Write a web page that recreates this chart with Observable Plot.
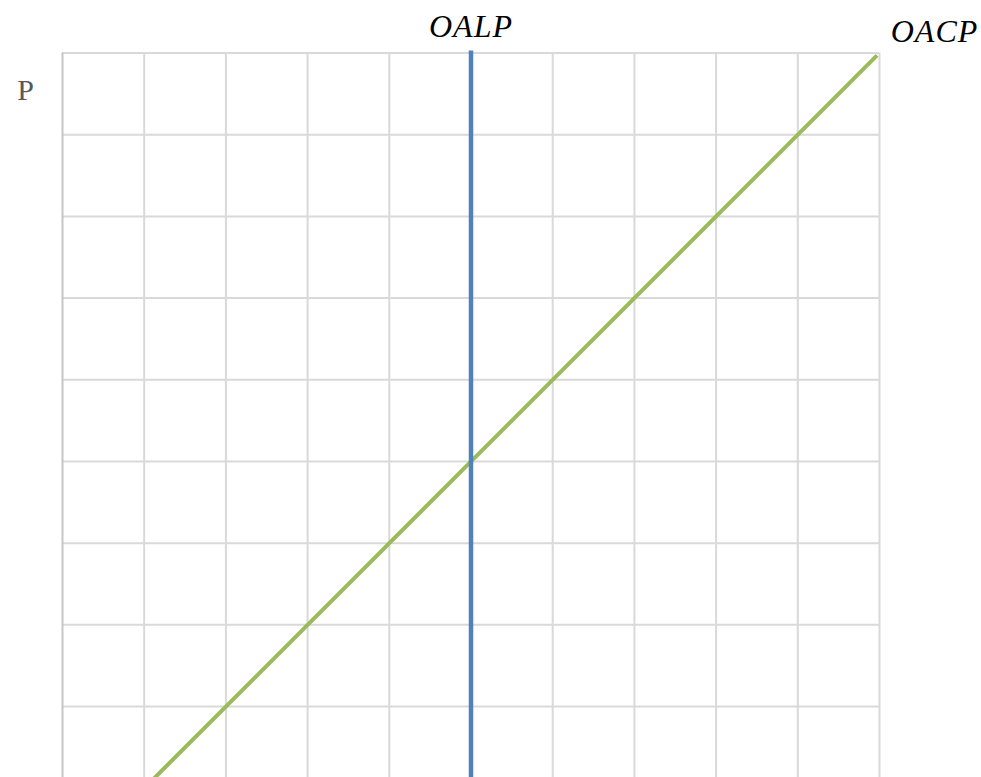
<!DOCTYPE html>
<html>
<head>
<meta charset="utf-8">
<script src="https://cdn.jsdelivr.net/npm/d3@7"></script>
<script src="https://cdn.jsdelivr.net/npm/@observablehq/plot@0.6"></script>
<style>
  html, body { margin: 0; padding: 0; background: #fff; overflow: hidden; }
</style>
</head>
<body>
<div id="chart"></div>
<script>
// Grid ticks
const xTicks = [1, 2, 3, 4, 5, 6, 7, 8, 9, 10];
const yTicks = [2, 3, 4, 5, 6, 7, 8, 9, 10];

// OALP (vertical long-run aggregate supply)
const oalpX = [5, 5];
const oalpY = [1, 10.03];

// OACP (upward-sloping short-run aggregate supply)
const oacpX = [1, 9.97];
const oacpY = [1, 9.97];

// Labels
const labelText = ["OALP", "OACP", "P"];
const labelX = [5, 10, 0];
const labelY = [10, 10, 10];

const oalp = oalpX.map((x, i) => ({x, y: oalpY[i]}));
const oacp = oacpX.map((x, i) => ({x, y: oacpY[i]}));

const labelStyles = [
  {dx: 0, dy: -26.7, size: 32, italic: true, fill: "#000"},
  {dx: 55, dy: -21.7, size: 32, italic: true, fill: "#000"},
  {dx: -37, dy: 36.9, size: 30, italic: false, fill: "#595959"}
];

const labelMarks = labelText.map((t, i) => {
  const s = labelStyles[i];
  return Plot.text([{text: t, x: labelX[i], y: labelY[i]}], {
    x: "x", y: "y", text: "text", dx: s.dx, dy: s.dy,
    fontFamily: "Liberation Serif", fontSize: s.size,
    fontStyle: s.italic ? "italic" : "normal",
    fill: s.fill, textAnchor: "middle"
  });
});

const chart = Plot.plot({
  width: 981,
  height: 777,
  marginLeft: 62,
  marginRight: 102,
  marginTop: 52,
  marginBottom: 0,
  x: {domain: [0, 10], range: [62, 879], axis: null},
  y: {domain: [1, 10], range: [787.75, 52.5], axis: null},
  style: {background: "#fff", overflow: "hidden"},
  marks: [
    Plot.ruleX(xTicks, {x: d => d, y1: 1, y2: 10, stroke: "#d9d9d9", strokeWidth: 2}),
    Plot.ruleY(yTicks, {y: d => d, x1: 0, x2: 10, stroke: "#d9d9d9", strokeWidth: 2}),
    Plot.ruleX([0], {x: d => d, y1: 1, y2: 10, stroke: "#c6c6c6", strokeWidth: 2}),
    Plot.line(oacp, {x: "x", y: "y", stroke: "#9bbb59", strokeWidth: 4, strokeLinecap: "butt"}),
    Plot.line(oalp, {x: "x", y: "y", stroke: "#4f81bd", strokeWidth: 4.5, strokeLinecap: "butt"}),
    ...labelMarks
  ]
});

chart.querySelectorAll("text").forEach(t => {
  if (t.textContent.startsWith("OA")) t.setAttribute("letter-spacing", "1px");
});
document.getElementById("chart").appendChild(chart);
</script>
</body>
</html>
